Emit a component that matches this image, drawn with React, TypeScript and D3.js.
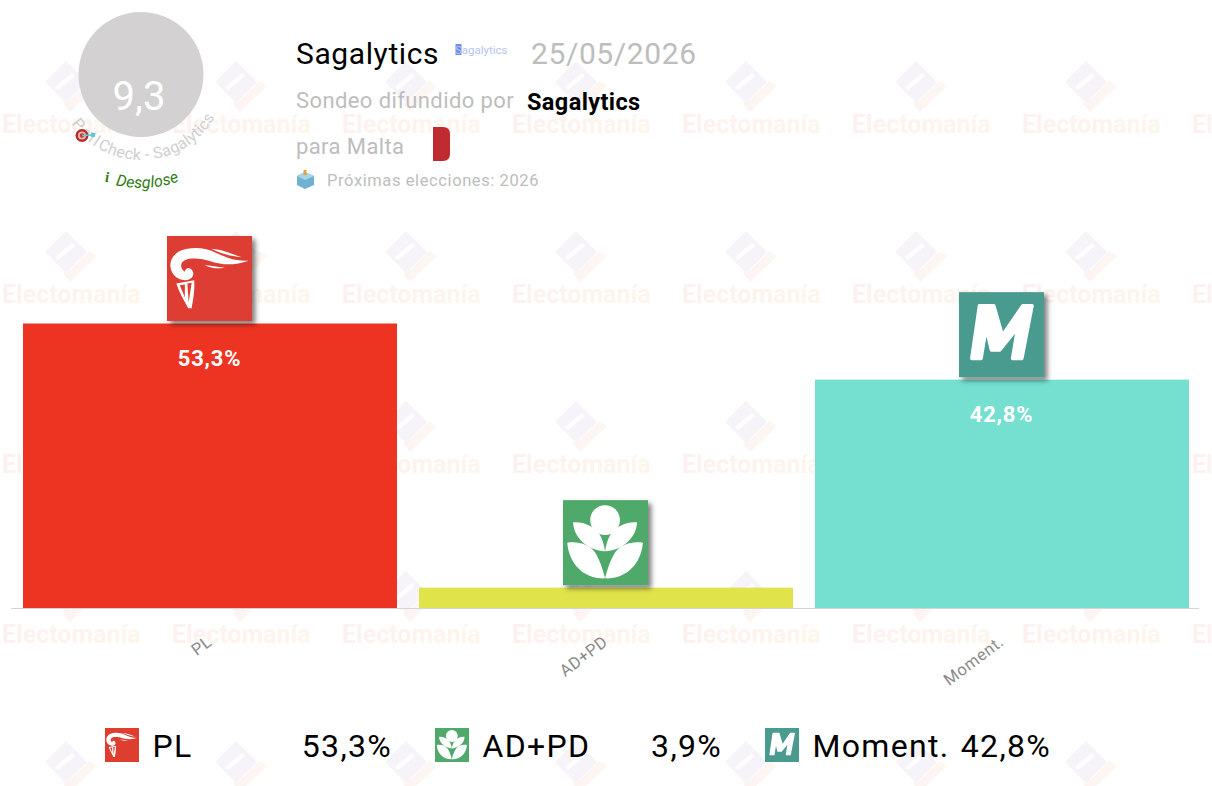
import React from "react";
import * as d3 from "d3";

const W = 1212;
const H = 786;
const categories = ["PL", "AD+PD", "Moment."];
const shares = [53.3, 3.9, 42.8];
const barColors = ["#ed3322", "#e0e44a", "#75dfd0"];
const iconColors = ["#dd3e30", "#4fa96a", "#4a9b8f"];
const legendIconX = [105, 435, 765];
const legendNameX = [152.5, 482.5, 812.5];
const legendValueEnd = [392, 722, 1051];
const wmCols = [0, 1, 2, 3, 4, 5, 6, 7];
const wmLogoRows = [82, 252, 422, 592, 762];
const wmTextRows = [132.5, 302.5, 472.5, 642.5];
const pollster = "Sagalytics";
const pollDate = "25/05/2026";
const rating = "9,3";

const fmt = (v: number) => v.toFixed(1).replace(".", ",") + "%";
const FONT = "Roboto, sans-serif";

function PartyIcon({ i, x, y, s, shadow }: { i: number; x: number; y: number; s: number; shadow?: boolean }) {
  return (
    <g transform={`translate(${x},${y}) scale(${s / 100})`}>
      <rect width={100} height={100} fill={iconColors[i]} filter={shadow ? "url(#iconShadow)" : undefined} />
      {i === 0 && (
        <g fill="#fff">
          <path d="M96 29C78 30 68 24 58 20C48 15 36 13 24 15C10 17 3 27 4 36C5 46 13 52 21 52C29 52 33 46 30 41C27 36 22 37 21 42C15 38 15 31 22 28C30 25 42 27 52 30C66 35 82 34 96 29Z" />
          <path d="M52 15C66 16 76 21 88 25C76 24 64 21 52 15Z" />
          <path d="M44 34C54 35 62 37 68 37C60 39 52 38 44 34Z" />
          <path fillRule="evenodd" d="M11 56L32 52C33 66 30 78 29 85L25 85C20 76 14 66 11 56ZM15 58L21 72L21 57ZM24 56L25.5 78L29 55Z" />
        </g>
      )}
      {i === 1 && (
        <g fill="#fff">
          <circle cx={49.5} cy={23.5} r={17.5} />
          <path d="M12 26C24 25 35 30 42 39C46 44 48 52 49.5 60C30 60 12 44 12 26Z" />
          <path d="M87 26C75 25 64 30 57 39C53 44 51 52 49.5 60C69 60 87 44 87 26Z" />
          <path d="M5 50C18 48 32 52 38 62C43 70 47 82 49.5 92C25 93 7 75 5 50Z" />
          <path d="M94 50C81 48 67 52 61 62C56 70 52 82 49.5 92C74 93 92 75 94 50Z" />
        </g>
      )}
      {i === 2 && (
        <path
          fill="#fff"
          stroke="#fff"
          strokeWidth={4}
          strokeLinejoin="round"
          d="M24 16L41 16L51 51L75 16L86 16L74 78L63 78L69 42L48 68L38 68L32 42L26 78L15 78Z"
        />
      )}
    </g>
  );
}

function WatermarkLogo({ x, y }: { x: number; y: number }) {
  return (
    <g transform={`translate(${x},${y})`}>
      <path fillRule="evenodd" fill="url(#wmLogo)" d="M0 -21L21 0L0 21L-21 0ZM6 -9L-11 5L-8 8L9 -6Z" />
      <path fill="url(#wmTail)" d="M-3 22L4 30L31 4L23 -1L4 18L0 18Z" />
    </g>
  );
}

export default function App() {
  const x = d3.scaleBand<string>().domain(categories).range([12, 1200]).paddingInner(0.0556).paddingOuter(0.0278);
  const y = d3.scaleLinear().domain([0, 53.3]).range([608.5, 323.5]);
  const bw = x.bandwidth();
  const arcC = { x: 141, y: 75 };
  const arc = (r: number, a0: number, a1: number) => {
    const p = (a: number) => [arcC.x + r * Math.cos(a), arcC.y + r * Math.sin(a)];
    const [sx, sy] = p(a0);
    const [ex, ey] = p(a1);
    return `M${sx} ${sy}A${r} ${r} 0 0 0 ${ex} ${ey}`;
  };
  return (
    <svg
      width={W}
      height={H}
      viewBox={`0 0 ${W} ${H}`}
      style={{ position: "absolute", left: 0, top: 0, display: "block", background: "#fff", fontFamily: FONT }}
    >
      <defs>
        <linearGradient id="wmLogo" x1="0" y1="0" x2="1" y2="0">
          <stop offset="0" stopColor="#f7f4f9" />
          <stop offset="1" stopColor="#f5f2f9" />
        </linearGradient>
        <linearGradient id="wmTail" x1="0" y1="0" x2="1" y2="0">
          <stop offset="0" stopColor="#fcf4f3" />
          <stop offset="1" stopColor="#fdf7f2" />
        </linearGradient>
        <linearGradient id="wmText" x1="0" y1="0" x2="1" y2="0">
          <stop offset="0" stopColor="#fcf1f0" />
          <stop offset="1" stopColor="#fdf6ec" />
        </linearGradient>
        <filter id="iconShadow" x="-20%" y="-20%" width="150%" height="150%">
          <feDropShadow dx={4} dy={4} stdDeviation={3} floodColor="#000" floodOpacity={0.5} />
        </filter>
        <path id="arcPoll" d={arc(85, (145 * Math.PI) / 180, (25 * Math.PI) / 180)} />
        <path id="arcDesglose" d={arc(113, (103 * Math.PI) / 180, (55 * Math.PI) / 180)} />
      </defs>

      {wmLogoRows.map((ry) =>
        wmCols.map((c) => <WatermarkLogo key={`l${ry}-${c}`} x={66 + c * 170} y={ry} />)
      )}
      {wmTextRows.map((ry) =>
        wmCols.map((c) => (
          <text key={`t${ry}-${c}`} x={2 + c * 170} y={ry} fontSize={25} fontWeight={700} fill="url(#wmText)">
            Electomanía
          </text>
        ))
      )}

      <circle cx={141} cy={74.5} r={62.5} fill="#d3d1d2" />
      <text x={139} y={110} textAnchor="middle" fontSize={40} fill="#fff">
        {rating}
      </text>
      <text fontSize={16} fill="#cfcfcf" textRendering="geometricPrecision">
        <textPath href="#arcPoll">
          <tspan letterSpacing={2.2}>Poll</tspan>
          <tspan letterSpacing={0.3}>Check - Sagalytics</tspan>
        </textPath>
      </text>
      <g transform="translate(82,135.5)">
        <circle r={6.5} fill="#b8282c" />
        <circle r={4} fill="#e9b9b0" />
        <circle r={2.2} fill="#c0392b" />
        <path d="M0 0L10 -0.5" stroke="#5fc6d6" strokeWidth={1.5} />
        <path d="M9 -3L13 -2.5L13 1.5L9 1.5Z" fill="#5fc6d6" />
      </g>
      <text x={105} y={182} fontSize={15} fontWeight={700} fontStyle="italic" fontFamily="'Liberation Serif', serif" fill="#2e7d14">
        i
      </text>
      <text fontSize={16} letterSpacing={0.1} fontStyle="italic" fill="#2e7d14" textRendering="geometricPrecision">
        <textPath href="#arcDesglose">Desglose</textPath>
      </text>

      <text x={296} y={64} fontSize={30} letterSpacing={0.6} fill="#000">
        {pollster}
      </text>
      <rect x={455.5} y={44} width={6} height={11} fill="#6f8be8" />
      <text x={455} y={54} fontSize={11.5} fill="#b6c4f2">
        {pollster}
      </text>
      <text x={531} y={64} fontSize={30} letterSpacing={0.6} fill="#bdbdbd">
        {pollDate}
      </text>
      <text x={296} y={108} fontSize={22} letterSpacing={0.4} fill="#bdbdbd">
        Sondeo difundido por
      </text>
      <text x={527} y={110} fontSize={23.5} letterSpacing={0.4} fontWeight={700} fill="#000">
        {pollster}
      </text>
      <text x={296} y={154} fontSize={22} letterSpacing={0.4} fill="#bdbdbd">
        para Malta
      </text>
      <path d="M433 127L443 127Q450 127 450 134L450 154Q450 161 443 161L433 161Z" fill="#c02a31" />
      <g>
        <path d="M297 176L305 172L314 176L314 185L305 189L297 185Z" fill="#6fb1d0" />
        <path d="M297 176L305 180L314 176L305 172Z" fill="#a9d4e6" />
        <rect x={303.5} y={170} width={3} height={5} fill="#e8a13c" />
      </g>
      <text x={327} y={186} fontSize={16.5} letterSpacing={0.6} fill="#bdbdbd">
        Próximas elecciones: 2026
      </text>

      {categories.map((c, i) => (
        <rect key={c} x={x(c)} y={y(shares[i])} width={bw} height={y(0) - y(shares[i])} fill={barColors[i]} />
      ))}
      <line x1={11} x2={1199} y1={608.5} y2={608.5} stroke="#d4d4d4" strokeWidth={1} />

      {categories.map((c, i) => (
        <PartyIcon key={c} i={i} x={x(c)! + bw / 2 - 43} y={y(shares[i]) - 87.5} s={85} shadow />
      ))}
      {categories.map((c, i) =>
        shares[i] > 10 ? (
          <text
            key={c}
            x={x(c)! + bw / 2 - 0.5}
            y={y(shares[i]) + 42}
            textAnchor="middle"
            fontSize={22}
            letterSpacing={0.8}
            fontWeight={700}
            fill="#fff"
          >
            {fmt(shares[i])}
          </text>
        ) : null
      )}
      {categories.map((c) => (
        <text
          key={c}
          textAnchor="end"
          fontSize={16.5}
          letterSpacing={0.6}
          fill="#8a8a8a"
          transform={`translate(${x(c)! + bw / 2 + 3},${644}) rotate(-37)`}
        >
          {c}
        </text>
      ))}

      {categories.map((c, i) => (
        <g key={c}>
          <PartyIcon i={i} x={legendIconX[i]} y={728} s={34} />
          <text x={legendNameX[i]} y={756.5} fontSize={32} letterSpacing={1.3} fill="#000">
            {c}
          </text>
          <text x={legendValueEnd[i]} y={756.5} fontSize={32} letterSpacing={1.3} textAnchor="end" fill="#000">
            {fmt(shares[i])}
          </text>
        </g>
      ))}
    </svg>
  );
}
